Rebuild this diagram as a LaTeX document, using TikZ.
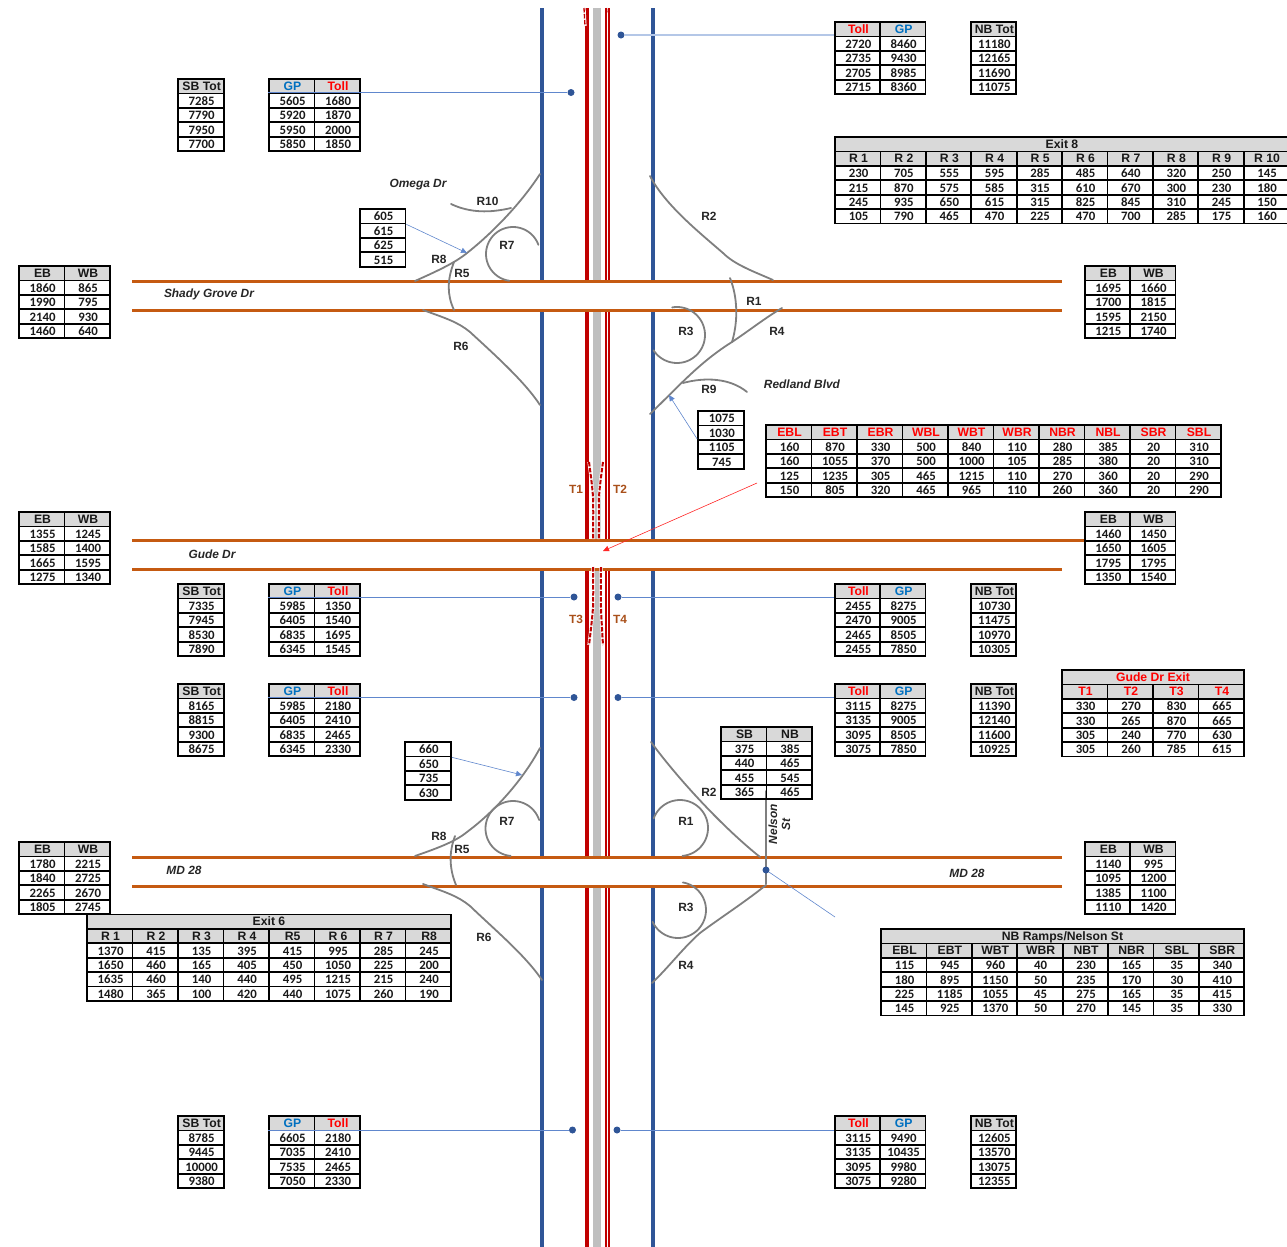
\documentclass[tikz,border=0pt]{standalone}
\usepackage{fontspec}
\setmainfont{Liberation Sans}
\newfontfamily\numf{Carlito}
\usetikzlibrary{arrows.meta}
\definecolor{hwyblue}{HTML}{2F5597}
\definecolor{hwyred}{HTML}{C00000}
\definecolor{hwygray}{HTML}{BFBFBF}
\definecolor{xorange}{HTML}{C55A11}
\definecolor{rampgray}{HTML}{7F7F7F}
\definecolor{hdrgray}{HTML}{D9D9D9}
\definecolor{tollred}{HTML}{FF0000}
\definecolor{gpblue}{HTML}{0070C0}
\definecolor{leaderblue}{HTML}{4472C4}
\definecolor{tlabel}{HTML}{A9501A}
\newcommand\Rd{\color{tollred}}
\newcommand\Bl{\color{gpblue}}
\tikzset{
  x=1bp,y=-1bp,
  cellbox/.style={draw=black,line width=1.8bp,inner sep=0pt,text height=9.6bp,text depth=0.4bp,
     font=\numf\bfseries\fontsize{12.8bp}{13bp}\selectfont,text=black!90},
  hdrbox/.style={cellbox,fill=hdrgray,text height=8bp,text depth=0bp,
     font=\bfseries\fontsize{12.2bp}{13bp}\selectfont},
  ramp/.style={draw=rampgray,line width=1.8bp,line cap=round},
  lbl/.style={font=\bfseries\fontsize{11.9bp}{13bp}\selectfont,text=black!85,inner sep=0pt,yshift=-0.6bp},
  ilbl/.style={font=\bfseries\itshape\fontsize{11.9bp}{13bp}\selectfont,text=black!85,inner sep=0pt,align=center,yshift=-1.2bp},
  tlbl/.style={font=\bfseries\fontsize{11.9bp}{13bp}\selectfont,text=tlabel,inner sep=0pt,yshift=-0.6bp},
  blob/.style={circle,fill=hwyblue,inner sep=0pt,minimum size=7bp},
  leader/.style={draw=leaderblue!85,line width=0.6bp},
  paleleader/.style={draw=leaderblue!40,line width=1.1bp},
  ptr/.style={draw=leaderblue!85,line width=0.6bp,-{Triangle[length=6bp,width=5.5bp]}},
  redptr/.style={draw=tollred!85,line width=0.6bp,-{Triangle[length=6bp,width=5.5bp]}},
  tdash/.style={draw=hwyred,line width=2bp,dash pattern=on 4.5bp off 1.5bp},
  twhite/.style={draw=white,line width=3.2bp},
}
% \tbl{name}{x}{y}{col width}{rows}
\newcommand\tbl[5]{%
  \foreach \rw [count=\ri from 0] in {#5}{%
    \ifnum\ri=0 \def\stl{hdrbox}\else\def\stl{cellbox}\fi
    \foreach \cl [count=\ci from 0] in \rw {%
      \node[\stl,minimum width=#4 bp,minimum height=14.4bp] (#1-\ri-\ci)
        at ({#2+(\ci+0.5)*#4},{#3+(\ri+0.5)*14.4}) {\kern1.6bp\cl};
    }%
  }%
}
% \ttl{name}{x}{y}{width}{text}
\newcommand\ttl[5]{%
  \node[hdrbox,minimum width=#4 bp,minimum height=14.4bp] (#1) at ({#2+#4/2},{#3+7.2}) {#5};
}
\begin{document}
\begin{tikzpicture}
\useasboundingbox (0,0) rectangle (1287,1247);
% highway
\fill[hwygray] (592.8,8) rectangle (601.2,1247);
\draw[hwyred,line width=4bp] (587,8) -- (587,1247);
\draw[hwyred,line width=2bp] (606,8) -- (606,1247);
\draw[hwyred,line width=2bp] (609,8) -- (609,1247);
\draw[hwyblue,line width=4bp] (542,8) -- (542,1247);
\draw[hwyblue,line width=4bp] (653,8) -- (653,1247);
% cross streets
\fill[white] (132,281.5) rectangle (1062,310.5);
\fill[white] (132,540.3) rectangle (1085,569.5);
\fill[white] (132,857.3) rectangle (1062,886.3);
\foreach \yy/\xe in {281.5/1062,310.5/1062,540.3/1085,569.5/1062,857.3/1062,886.3/1062}{
  \draw[xorange,line width=3bp] (132,\yy) -- (\xe,\yy);
}
% toll ramps (dashed)
\draw[twhite] (584,8) -- (585,26);
\draw[tdash,line width=1.3bp] (584,8) -- (585,26);
\draw[tdash,line width=1.3bp] (606.5,8) -- (607,13);
\foreach \pts in {
  {(589,462) (593,497) (593,539)},
  {(603,462) (599,497) (599,539)},
  {(593,567) (593,607) (589,645)},
  {(601,567) (601,607) (603,645)}}{
  \draw[twhite] plot[smooth,tension=0.5] coordinates \pts;
  \draw[tdash] plot[smooth,tension=0.5] coordinates \pts;
}
% upper interchange ramps
\draw[ramp] (451,204) .. controls (470,213) and (490,213) .. (511,208);
\draw[ramp] (540,174) .. controls (520,205) and (490,235) .. (467,253) .. controls (455,263) and (435,272) .. (415,281);
\draw[ramp] plot[domain=-20:-262,samples=50,smooth] ({513+27*cos(\x)},{254+27*sin(\x)});
\draw[ramp] (454,262) .. controls (447,280) and (447,295) .. (454,310);
\draw[ramp] (423,310) .. controls (445,318) and (458,322) .. (470,332) .. controls (495,355) and (525,382) .. (540,405);
\draw[ramp] (650,176) .. controls (665,205) and (700,233) .. (723,253) .. controls (735,265) and (755,272) .. (773,280);
\draw[ramp] (730,278) .. controls (738,298) and (738,322) .. (732,342);
\draw[ramp] (650,414) .. controls (680,385) and (700,362) .. (732,342) .. controls (750,330) and (765,318) .. (782,308);
\draw[ramp] plot[domain=-100:147,samples=50,smooth] ({677+28*cos(\x)},{335+28*sin(\x)});
\draw[ramp] (683,383) .. controls (705,377) and (730,378) .. (747,392);
% lower interchange ramps
\draw[ramp] (540,748) .. controls (520,785) and (490,815) .. (467,832) .. controls (455,842) and (435,849) .. (415,856);
\draw[ramp] plot[domain=-18:-265,samples=50,smooth] ({513+27.5*cos(\x)},{828.5+27.5*sin(\x)});
\draw[ramp] (455,836) .. controls (449,852) and (449,868) .. (456,885);
\draw[ramp] (423,884) .. controls (445,892) and (458,896) .. (470,906) .. controls (495,930) and (525,955) .. (542,980);
\draw[ramp] (651,742) .. controls (675,775) and (720,825) .. (760,857);
\draw[ramp] plot[domain=-160:85,samples=50,smooth] ({680+28*cos(\x)},{828+28*sin(\x)});
\draw[ramp] (766,791) -- (766,884);
\draw[ramp] (766,885) .. controls (745,902) and (720,918) .. (700,933) .. controls (683,948) and (668,968) .. (652,983);
\draw[ramp] plot[domain=-80:155,samples=50,smooth] ({678+28*cos(\x)},{910+28*sin(\x)});
% tables
\tbl{ts}{178}{79}{45.7}{{SB Tot},{7285},{7790},{7950},{7700}}
\tbl{tg}{269}{79}{45.5}{{\Bl GP,\Rd Toll},{5605,1680},{5920,1870},{5950,2000},{5850,1850}}
\tbl{tt}{835}{22}{45.2}{{\Rd Toll,\Bl GP},{2720,8460},{2735,9430},{2705,8985},{2715,8360}}
\tbl{tn}{971}{22}{45.2}{{NB Tot},{11180},{12165},{11690},{11075}}
\ttl{ex8}{835}{137}{454}{Exit 8}
\tbl{e8}{835}{151.4}{45.4}{{R 1,R 2,R 3,R 4,R 5,R 6,R 7,R 8,R 9,R 10},
  {230,705,555,595,285,485,640,320,250,145},
  {215,870,575,585,315,610,670,300,230,180},
  {245,935,650,615,315,825,845,310,245,150},
  {105,790,465,470,225,470,700,285,175,160}}
\foreach \nn/\vv [count=\k from 0] in {a/605,b/615,c/625,d/515}{
  \node[cellbox,minimum width=45.5bp,minimum height=14.4bp] (o\nn) at (382.7,{209+(\k+0.5)*14.4}) {\kern1.6bp\vv};
}
\tbl{w1}{19}{266}{45.5}{{EB,WB},{1860,865},{1990,795},{2140,930},{1460,640}}
\tbl{e1}{1085}{266}{45.2}{{EB,WB},{1695,1660},{1700,1815},{1595,2150},{1215,1740}}
\foreach \nn/\vv [count=\k from 0] in {a/1075,b/1030,c/1105,d/745}{
  \node[cellbox,minimum width=46bp,minimum height=14.4bp] (r\nn) at (721,{411+(\k+0.5)*14.4}) {\kern1.6bp\vv};
}
\tbl{ig}{766}{425}{45.5}{{\Rd EBL,\Rd EBT,\Rd EBR,\Rd WBL,\Rd WBT,\Rd WBR,\Rd NBR,\Rd NBL,\Rd SBR,\Rd SBL},
  {160,870,330,500,840,110,280,385,20,310},
  {160,1055,370,500,1000,105,285,380,20,310},
  {125,1235,305,465,1215,110,270,360,20,290},
  {150,805,320,465,965,110,260,360,20,290}}
\tbl{w2}{19}{512}{45.5}{{EB,WB},{1355,1245},{1585,1400},{1665,1595},{1275,1340}}
\tbl{e2}{1085}{512}{45.2}{{EB,WB},{1460,1450},{1650,1605},{1795,1795},{1350,1540}}
\tbl{s2}{178}{584}{45.7}{{SB Tot},{7335},{7945},{8530},{7890}}
\tbl{g2}{269}{584}{45.5}{{\Bl GP,\Rd Toll},{5985,1350},{6405,1540},{6835,1695},{6345,1545}}
\tbl{t2}{835}{584}{45.2}{{\Rd Toll,\Bl GP},{2455,8275},{2470,9005},{2465,8505},{2455,7850}}
\tbl{n2}{971}{584}{45.2}{{NB Tot},{10730},{11475},{10970},{10305}}
\tbl{s3}{178}{684}{45.7}{{SB Tot},{8165},{8815},{9300},{8675}}
\tbl{g3}{269}{684}{45.5}{{\Bl GP,\Rd Toll},{5985,2180},{6405,2410},{6835,2465},{6345,2330}}
\tbl{t3}{835}{684}{45.2}{{\Rd Toll,\Bl GP},{3115,8275},{3135,9005},{3095,8505},{3075,7850}}
\tbl{n3}{971}{684}{45.2}{{NB Tot},{11390},{12140},{11600},{10925}}
\ttl{gdx}{1062}{670}{182}{\Rd Gude Dr Exit}
\tbl{ge}{1062}{684.4}{45.5}{{\Rd T1,\Rd T2,\Rd T3,\Rd T4},{330,270,830,665},{330,265,870,665},{305,240,770,630},{305,260,785,615}}
\foreach \nn/\vv [count=\k from 0] in {a/660,b/650,c/735,d/630}{
  \node[cellbox,minimum width=46bp,minimum height=14.4bp] (m\nn) at (428,{742+(\k+0.5)*14.4}) {\kern1.6bp\vv};
}
\tbl{sn}{721}{727}{45.5}{{SB,NB},{375,385},{440,465},{455,545},{365,465}}
\tbl{w3}{19}{842}{45.5}{{EB,WB},{1780,2215},{1840,2725},{2265,2670},{1805,2745}}
\tbl{e3}{1085}{842}{45.2}{{EB,WB},{1140,995},{1095,1200},{1385,1100},{1110,1420}}
\ttl{ex6}{87}{914.5}{364}{Exit 6}
\tbl{e6}{87}{928.9}{45.5}{{R 1,R 2,R 3,R 4,R5,R 6,R 7,R8},
  {1370,415,135,395,415,995,285,245},
  {1650,460,165,405,450,1050,225,200},
  {1635,460,140,440,495,1215,215,240},
  {1480,365,100,420,440,1075,260,190}}
\ttl{nbr}{881}{929}{363}{NB Ramps/Nelson St}
\tbl{nr}{881}{943.4}{45.4}{{EBL,EBT,WBT,WBR,NBT,NBR,SBL,SBR},
  {115,945,960,40,230,165,35,340},
  {180,895,1150,50,235,170,30,410},
  {225,1185,1055,45,275,165,35,415},
  {145,925,1370,50,270,145,35,330}}
\tbl{s4}{178}{1116}{45.7}{{SB Tot},{8785},{9445},{10000},{9380}}
\tbl{g4}{269}{1116}{45.5}{{\Bl GP,\Rd Toll},{6605,2180},{7035,2410},{7535,2465},{7050,2330}}
\tbl{t4}{835}{1116}{45.2}{{\Rd Toll,\Bl GP},{3115,9490},{3135,10435},{3095,9980},{3075,9280}}
\tbl{n4}{971}{1116}{45.2}{{NB Tot},{12605},{13570},{13075},{12355}}
% leaders and dots
\node[blob] (d1) at (571,92.5) {};
\node[blob] (d2) at (621,35) {};
\node[blob] (d3) at (574,597) {};
\node[blob] (d4) at (618,597) {};
\node[blob] (d5) at (574,697.5) {};
\node[blob] (d6) at (618,697.5) {};
\node[blob] (d7) at (766,870) {};
\node[blob] (d8) at (572.5,1130) {};
\node[blob] (d9) at (617,1130) {};
\coordinate (c7) at (835,917);
\draw[leader] (d1) -- (d1 -| tg-0-0.west);
\draw[paleleader] (d2) -- (d2 -| tt-0-0.west);
\draw[leader] (d3) -- (d3 -| g2-0-0.west);
\draw[leader] (d4) -- (d4 -| t2-0-0.west);
\draw[leader] (d5) -- (d5 -| g3-0-0.west);
\draw[leader] (d6) -- (d6 -| t3-0-0.west);
\draw[leader] (d7) -- (c7);
\draw[leader] (d8) -- (d8 -| g4-0-0.west);
\draw[leader] (d9) -- (d9 -| t4-0-0.west);
% pointers
\coordinate (p1) at (467,253);
\coordinate (p2) at (522,775);
\coordinate (p3) at (669,395);
\coordinate (p4) at (603,551);
\coordinate (q4) at (757,483);
\draw[ptr] (oa.south east) -- (p1);
\draw[ptr] (ma.south east) -- (p2);
\draw[ptr] (rc.north west) -- (p3);
\draw[redptr] (q4) -- (p4);
% labels
\foreach \nn/\xx/\yy/\tt in {a/487.5/201/R10,b/709/216/R2,c/507/245/R7,d/439/259/R8,e/462/273/R5,f/754/301/R1,g/686/331/R3,h/777/331/R4,i/461/346/R6,j/709/389/R9,k/439/836/R8,l/462/849/R5,m/507/821/R7,n/709/792/R2,o/686/821/R1,p/686/907/R3,q/686/965/R4,r/484/937/R6}{
  \node[lbl] (l\nn) at (\xx,\yy) {\tt};
}
\node[ilbl] (omega) at (418,183) {Omega Dr};
\node[ilbl] (shady) at (209,293) {Shady Grove Dr};
\node[ilbl] (redland) at (802,383) {Redland Blvd};
\node[ilbl] (gude) at (212,553) {Gude Dr};
\node[ilbl] (md1) at (184,869) {MD 28};
\node[ilbl] (md2) at (967,872) {MD 28};
\node[ilbl,rotate=90,yshift=1.2bp] (nelson) at (780.5,823) {Nelson\\St};
\node[tlbl] (t1) at (576,489) {T1};
\node[tlbl] (t2) at (620,489) {T2};
\node[tlbl] (t3) at (576,619) {T3};
\node[tlbl] (t4) at (620,619) {T4};
\end{tikzpicture}
\end{document}
